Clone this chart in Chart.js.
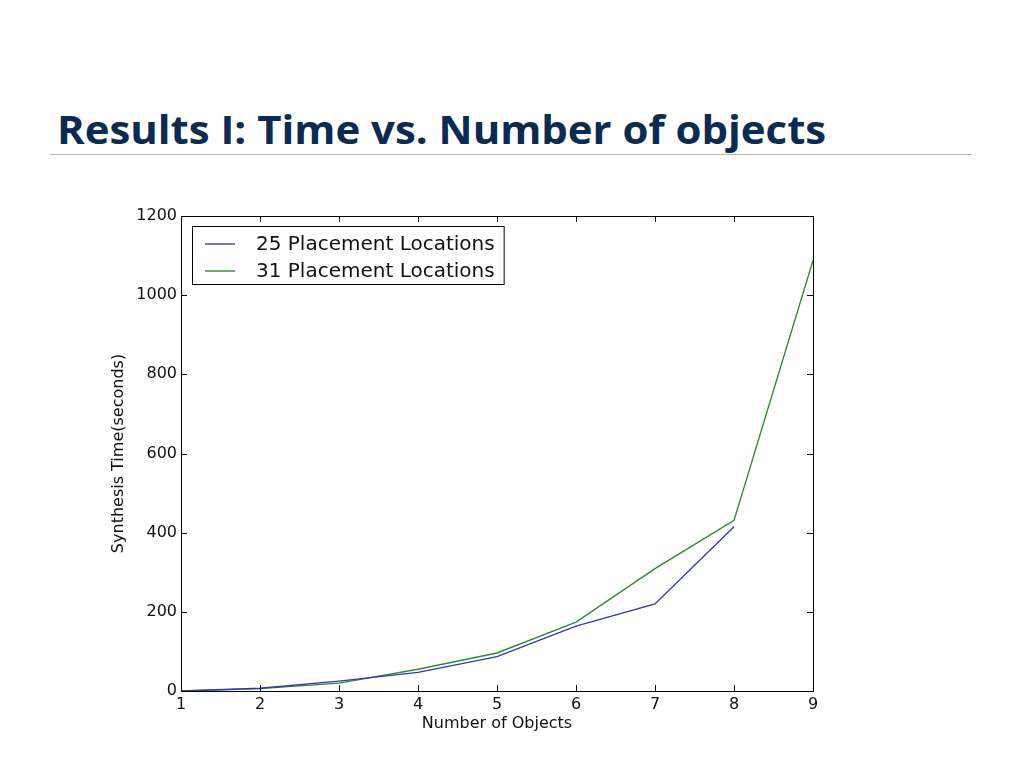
<!DOCTYPE html>
<html>
<head>
<meta charset="utf-8">
<script src="https://cdn.jsdelivr.net/npm/chart.js@4/dist/chart.umd.min.js"></script>
<style>
    html, body { margin: 0; padding: 0; background: #fff; }
    body { width: 1024px; height: 767px; position: relative; overflow: hidden; }
    #title {
        position: absolute; left: 57px; top: 104px; margin: 0;
        font-family: 'Open Sans', 'Noto Sans', sans-serif; font-weight: bold;
        font-size: 40px; line-height: 50px; color: #0c2b52;
        white-space: nowrap; transform-origin: 0 0;
    }
    #rule { position: absolute; left: 50px; top: 154px; width: 922px; height: 0; border-top: 1px solid #b4b4b4; }
    #chart { position: absolute; left: 0; top: 0; }
</style>
</head>
<body>
<h1 id="title">Results I: Time vs. Number of objects</h1>
<div id="rule"></div>
<canvas id="chart" width="1024" height="767"></canvas>
<script>
    // values
    const objects = [1, 2, 3, 4, 5, 6, 7, 8, 9];
    const time25 = [0, 7, 25, 47, 87, 164, 220, 415];
    const time31 = [0, 6, 20, 55, 96, 174, 309, 431, 1088];
    const seriesLabels = ['25 Placement Locations', '31 Placement Locations'];
    const seriesColors = ['#3636b4', '#2f8a2f'];

    // squeeze the heading to the narrow slide font width
    const title = document.getElementById('title');
    title.style.transform = 'scaleX(' + (769 / title.scrollWidth) + ')';

    function toPoints(values) {
        return values.map((v, i) => ({ x: objects[i], y: v }));
    }

    // matplotlib style frame with ticks pointing inward on all four sides
    const frameTicks = {
        id: 'frameTicks',
        afterDatasetsDraw(chart) {
            const { ctx, chartArea: a, scales } = chart;
            ctx.save();
            ctx.strokeStyle = '#000';
            ctx.lineWidth = 1;
            ctx.strokeRect(a.left + 0.5, a.top + 0.5, a.width, a.height);
            ctx.beginPath();
            scales.x.ticks.forEach(t => {
                const px = Math.round(scales.x.getPixelForValue(t.value)) + 0.5;
                ctx.moveTo(px, a.bottom); ctx.lineTo(px, a.bottom - 6);
                ctx.moveTo(px, a.top); ctx.lineTo(px, a.top + 6);
            });
            scales.y.ticks.forEach(t => {
                const py = Math.round(scales.y.getPixelForValue(t.value)) + 0.5;
                ctx.moveTo(a.left, py); ctx.lineTo(a.left + 6, py);
                ctx.moveTo(a.right, py); ctx.lineTo(a.right - 6, py);
            });
            ctx.stroke();
            ctx.restore();
        },
        afterDraw(chart) {
            // legend box inside the upper left corner
            const { ctx, chartArea: a } = chart;
            const sets = chart.data.datasets;
            ctx.save();
            ctx.font = '20px "DejaVu Sans"';
            const textW = Math.max(...sets.map(d => ctx.measureText(d.label).width));
            const bx = a.left + 11, by = a.top + 10;
            const bw = 64 + textW + 9, bh = 58;
            ctx.fillStyle = '#fff';
            ctx.fillRect(bx, by, bw, bh);
            ctx.strokeStyle = '#000';
            ctx.lineWidth = 1;
            ctx.strokeRect(bx + 0.5, by + 0.5, bw, bh);
            sets.forEach((d, i) => {
                const y = by + 18 + i * 27;
                ctx.strokeStyle = d.borderColor;
                ctx.lineWidth = 1.4;
                ctx.beginPath();
                ctx.moveTo(bx + 13, y); ctx.lineTo(bx + 43, y);
                ctx.stroke();
                ctx.fillStyle = '#111';
                ctx.textBaseline = 'middle';
                ctx.fillText(d.label, bx + 64, y + 1);
            });
            ctx.restore();
        }
    };

    const tickFont = { family: 'DejaVu Sans', size: 16 };

    new Chart(document.getElementById('chart').getContext('2d'), {
        type: 'line',
        data: {
            datasets: [
                { label: seriesLabels[0], data: toPoints(time25), borderColor: seriesColors[0] },
                { label: seriesLabels[1], data: toPoints(time31), borderColor: seriesColors[1] }
            ]
        },
        options: {
            responsive: false,
            animation: false,
            devicePixelRatio: 1,
            layout: { padding: { left: 105, top: 216, right: 211, bottom: 30 } },
            elements: {
                point: { radius: 0 },
                line: { borderWidth: 1.4, tension: 0 }
            },
            plugins: { legend: { display: false }, tooltip: { enabled: false } },
            scales: {
                x: {
                    type: 'linear', min: 1, max: 9,
                    afterFit: scale => { scale.height = 46; },
                    grid: { display: false, drawTicks: false },
                    border: { display: false },
                    ticks: { stepSize: 1, padding: 4, color: '#111', font: tickFont },
                    title: { display: true, text: 'Number of Objects', color: '#111', padding: 4, font: tickFont }
                },
                y: {
                    min: 0, max: 1200,
                    afterFit: scale => { scale.width = 76; },
                    grid: { display: false, drawTicks: false },
                    border: { display: false },
                    ticks: { stepSize: 200, padding: 4, color: '#111', font: tickFont,
                             callback: value => String(value) },
                    title: { display: true, text: 'Synthesis Time(seconds)', color: '#111', padding: 4, font: tickFont }
                }
            }
        },
        plugins: [frameTicks]
    });
</script>
</body>
</html>
